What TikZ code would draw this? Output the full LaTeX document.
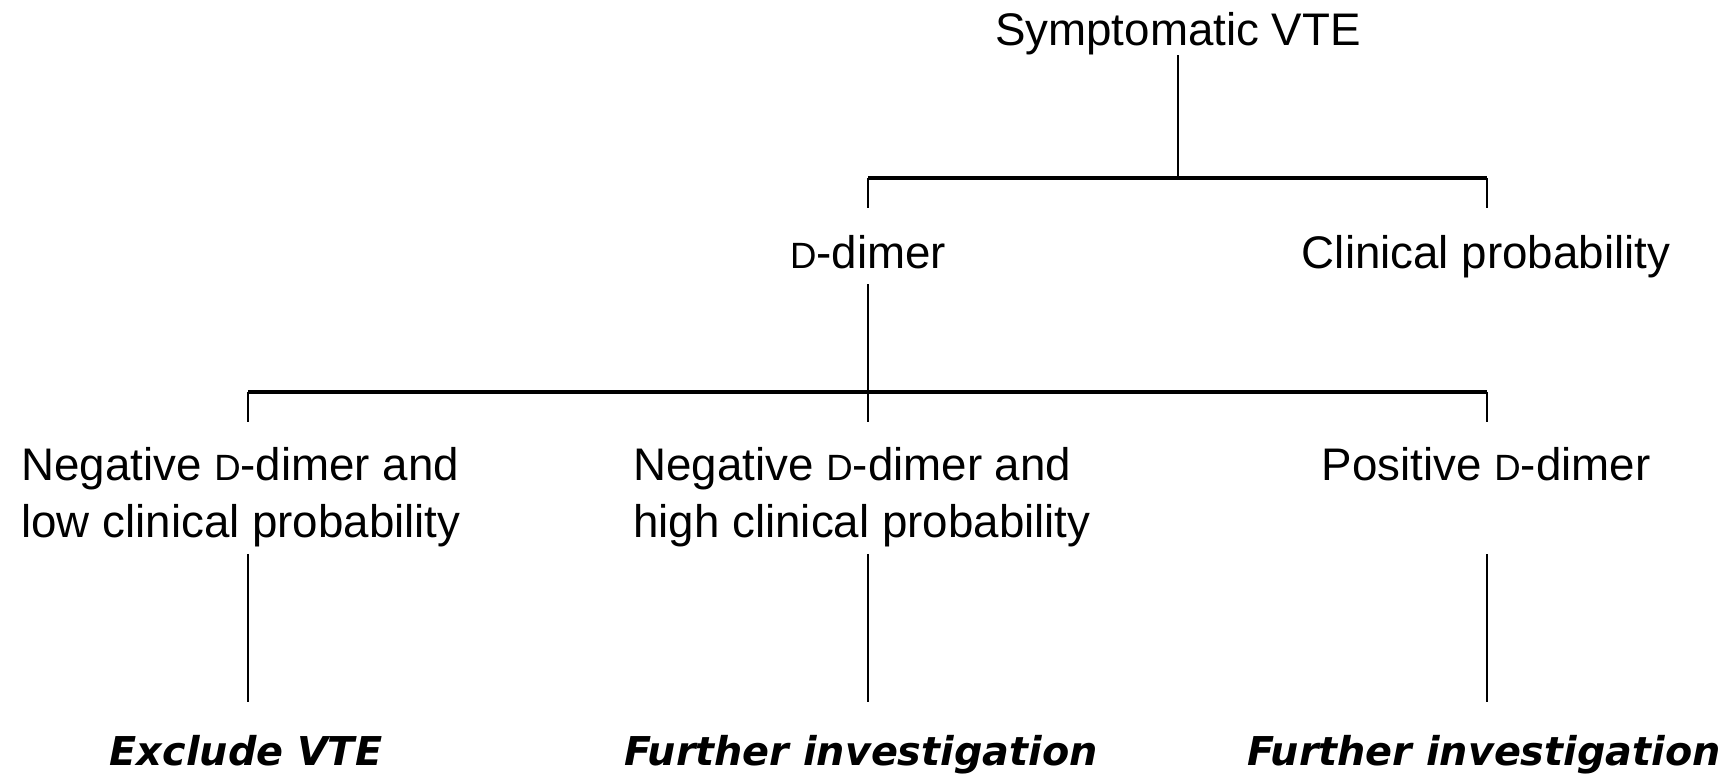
\documentclass[tikz,border=0pt]{standalone}
\usepackage{fontspec}
\setmainfont{Liberation Sans}
\newfontfamily\outcomefont{DejaVu Sans}
\newcommand{\Dsmall}{{\fontsize{10.4}{12}\selectfont D}}

\begin{document}
\begin{tikzpicture}[
    lbl/.style={font=\fontsize{13}{16.2}\selectfont, inner sep=0pt, align=left},
    outcome/.style={font=\outcomefont\bfseries\itshape\fontsize{11.3}{14}\selectfont, inner sep=0pt, anchor=base},
    stem/.style={line width=0.45pt},
    bar/.style={line width=0.9pt}
  ]
            \useasboundingbox (0,0) rectangle (17.3,7.78);

            \node[lbl, anchor=base] (sym) at (11.78,7.33) {Symptomatic VTE};
            \node[lbl, anchor=base] (dd) at (8.68,5.10) {\Dsmall-dimer};
            \node[lbl, anchor=base] (clin) at (14.86,5.10) {Clinical probability};

            \node[lbl, anchor=north] (neglow) at (2.41,3.31) {Negative \Dsmall-dimer and\\low clinical probability};
            \node[lbl, anchor=north] (neghigh) at (8.62,3.31) {Negative \Dsmall-dimer and\\high clinical probability};
            \node[lbl, anchor=base] (pos) at (14.86,2.98) {Positive \Dsmall-dimer};

            \node[outcome] (excl) at (2.46,0.13) {Exclude VTE};
            \node[outcome] (furtherA) at (8.61,0.13) {Further investigation};
            \node[outcome] (furtherB) at (14.84,0.13) {Further investigation};

            % junctions of the two bars
            \coordinate (j1) at (11.78,6.00);
            \coordinate (j1l) at (8.68,6.00);
            \coordinate (j1r) at (14.87,6.00);
            \coordinate (j2l) at (2.48,3.86);
            \coordinate (j2r) at (14.87,3.86);

            \draw[stem] (sym.south) -- (j1);
            \draw[bar] (j1l) -- (j1r);
            \draw[stem, shorten >=0.26cm] (j1l) -- (j1l |- dd.north);
            \draw[stem, shorten >=0.26cm] (j1r) -- (j1r |- clin.north);

            \draw[stem, shorten <=0.15cm, shorten >=0.25cm] (dd.south) -- (dd.south |- neghigh.north);
            \draw[bar] (j2l) -- (j2r);
            \draw[stem, shorten >=0.25cm] (j2l) -- (j2l |- neglow.north);
            \draw[stem, shorten >=0.24cm] (j2r) -- (j2r |- pos.north);

            \draw[stem, shorten <=0.06cm, shorten >=0.32cm] (j2l |- neglow.south) -- (j2l |- excl.north);
            \draw[stem, shorten <=0.06cm, shorten >=0.32cm] (dd.south |- neghigh.south) -- (dd.south |- furtherA.north);
            \draw[stem, shorten <=0.73cm, shorten >=0.32cm] (j2r |- pos.south) -- (j2r |- furtherB.north);
        \end{tikzpicture}
\end{document}
